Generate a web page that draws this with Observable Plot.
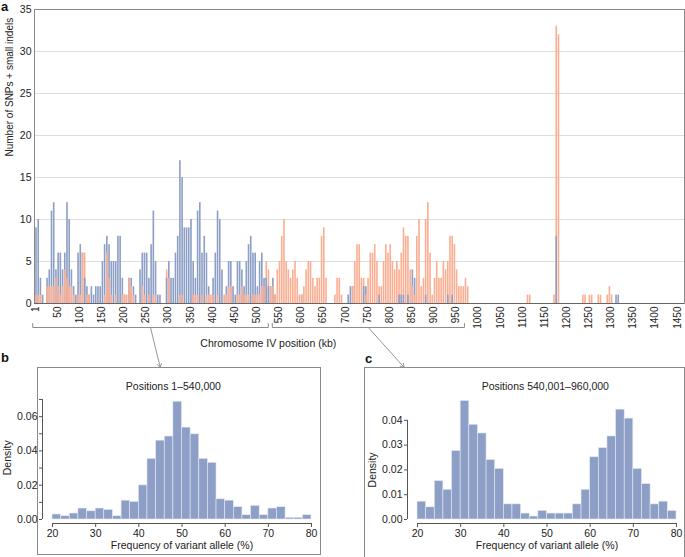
<!DOCTYPE html>
<html><head><meta charset="utf-8">
<script src="https://cdn.jsdelivr.net/npm/d3@7"></script>
<script src="https://cdn.jsdelivr.net/npm/@observablehq/plot@0.6"></script>
<style>
body{margin:0;background:#fff;font-family:"Liberation Sans",Arial,sans-serif;}
#wrap{position:relative;width:685px;height:557px;overflow:hidden;}
#wrap svg{position:absolute;}
.lbl{position:absolute;font-weight:bold;font-size:13px;line-height:13px;color:#111;}
.box{position:absolute;border:1px solid #8a8a8a;box-sizing:border-box;}
</style></head><body><div id="wrap"></div>
<script>
// ---------- Panel a data: counts per 5-kb bin (bin i starts at i*5 kb) ----------
const binWidthKb = 5;
const blueCounts = [
 9,10,3,1,0,3,4,11,12,4,
 6,6,4,6,12,10,4,2,1,6,
 7,6,3,2,1,2,1,2,2,2,
 5,7,8,7,5,5,5,8,8,3,
 1,0,3,3,2,1,0,4,6,6,
 6,3,7,11,5,1,1,0,0,3,
 5,3,3,6,8,17,15,9,9,9,
 10,5,3,11,12,6,8,6,2,0,
 3,6,11,10,4,0,2,5,5,2,
 1,5,5,4,2,5,7,8,6,6,
 2,5,6,3,3,2,2,3,1,0,
 0,0,0,0,0,0,0,0,0,0,
 1,0,0,0,0,0,0,0,0,0,
 0,0,0,0,0,0,0,0,0,0,
 0,1,2,2,0,0,0,0,2,2,
 0,0,0,0,0,1,0,0,0,0,
 0,0,0,0,1,1,1,0,1,0,
 4,3,0,0,0,0,1,0,0,0,
 0,0,0,0,0,0,1,0,1,0,
 0,0,0,0,0,0,0,0,0,0,
 0,0,0,0,0,0,0,0,0,0,
 0,0,0,0,0,0,0,0,0,0,
 0,0,0,0,0,0,0,0,0,0,
 0,0,0,0,0,8,0,0,0,0,
 0,0,0,0,0,0,0,0,0,0,
 0,0,0,0,0,0,0,0,0,0,
 0,0,1,1
];
const orangeCounts = [
 1,1,1,0,0,2,2,2,2,3,
 2,1,2,4,3,2,2,1,0,1,
 1,6,6,1,1,0,0,0,0,0,
 0,1,6,3,1,0,1,0,0,1,
 1,1,3,2,1,0,0,0,2,1,
 0,1,0,1,1,0,0,0,0,4,
 3,0,0,0,0,1,1,0,0,0,
 0,1,1,1,0,1,0,1,1,1,
 1,0,1,0,0,1,1,2,2,0,
 0,1,1,2,1,1,1,0,1,1,
 1,1,2,2,5,4,2,2,1,4,
 5,8,10,5,4,3,4,5,3,1,
 1,2,4,5,5,3,2,3,3,8,
 9,3,0,0,0,1,3,3,1,0,
 0,0,0,2,5,7,7,3,3,1,
 3,6,6,7,5,2,2,5,7,6,
 7,5,4,5,4,6,9,8,8,4,
 2,1,8,10,2,3,10,12,6,1,
 3,5,3,3,5,4,5,8,8,7,
 4,2,2,2,3,2,0,0,0,0,
 0,0,0,0,0,0,0,0,0,0,
 0,0,0,0,0,0,0,0,0,0,
 0,0,1,1,0,0,0,0,0,0,
 0,0,0,0,1,33,32,0,0,0,
 0,0,0,0,0,0,0,1,1,0,
 1,1,0,0,1,1,0,0,1,2,
 1,0,0,0
];
const xTickLabels = [1,50,100,150,200,250,300,350,400,450,500,550,600,650,700,750,800,850,900,950,1000,1050,1100,1150,1200,1250,1300,1350,1400,1450];
const yTicksA = [0,5,10,15,20,25,30,35];

// ---------- Panels b and c: histogram densities (2% bins) ----------
const histBinStarts = [20,22,24,26,28,30,32,34,36,38,40,42,44,46,48,50,52,54,56,58,60,62,64,66,68,70,72,74,76,78];
const histBinWidth = 2;
const densityB = [0.0029,0.0019,0.0035,0.0064,0.0048,0.0064,0.0056,0.0019,0.0110,0.0103,0.0199,0.0354,0.0460,0.0484,0.0687,0.0536,0.0497,0.0354,0.0331,0.0118,0.0110,0.0072,0.0025,0.0079,0.0025,0.0064,0.0072,0.0010,0.0010,0.0025];
const densityC = [0.0072,0.0049,0.0155,0.0120,0.0276,0.0478,0.0382,0.0347,0.0240,0.0204,0.0061,0.0061,0.0024,0.0012,0.0035,0.0024,0.0024,0.0024,0.0061,0.0120,0.0251,0.0288,0.0335,0.0443,0.0407,0.0204,0.0143,0.0061,0.0072,0.0035];
const histXTicks = [20,30,40,50,60,70,80];
const yTicksB = [0,0.01,0.02,0.03,0.04,0.05,0.06,0.07];
const yTicksC = [0,0.01,0.02,0.03,0.04];

const BLUE = "#8d9fc6";
const ORANGE = "#fcae92";
const FONT = '"Liberation Sans", Arial, sans-serif';

// rows for panel a: within each bin, taller bar first so the shorter one is drawn on top
const rows = [];
blueCounts.forEach((b, i) => {
  const o = orangeCounts[i] || 0;
  const pair = [{series: "Series A", value: b}, {series: "Series B", value: o}]
    .filter(d => d.value > 0)
    .sort((p, q) => q.value - p.value);
  pair.forEach(d => rows.push({x1: i * binWidthKb, x2: (i + 1) * binWidthKb, series: d.series, value: d.value}));
});

// annotation geometry for the brackets / arrows below panel a (data units)
const brackets = [
  {id: 1, from: -6, to: 526},
  {id: 2, from: 535, to: 969}
];
const bracketY = -2.86, bracketTipY = -2.38, arrowEndY = -7.62;
const bracketPts = brackets.flatMap(b => [
  {id: b.id, x: b.from, y: bracketTipY}, {id: b.id, x: b.from, y: bracketY},
  {id: b.id, x: b.to, y: bracketY}, {id: b.id, x: b.to, y: bracketTipY}
]);
const arrows = [
  {x1: (brackets[0].from + brackets[0].to) / 2, x2: 282, y1: bracketY, y2: arrowEndY},
  {x1: (brackets[1].from + brackets[1].to) / 2, x2: 833, y1: bracketY, y2: arrowEndY}
];

const wrap = document.getElementById("wrap");

const chartA = Plot.plot({
  width: 685, height: 370,
  marginLeft: 34, marginRight: 1, marginTop: 9, marginBottom: 67,
  x: {domain: [-2, 1466]},
  y: {domain: [0, 35]},
  color: {type: "ordinal", domain: ["Series A", "Series B"], range: [BLUE, ORANGE]},
  style: {fontFamily: FONT, fontSize: "10px", color: "#222", background: "transparent", overflow: "visible"},
  marks: [
    Plot.ruleY(yTicksA.filter(d => d > 0), {stroke: "#dedede", strokeWidth: 1}),
    Plot.rectY(rows, {x1: "x1", x2: "x2", y1: 0, y2: "value", fill: "series", insetLeft: 0.3, insetRight: 0.3}),
    Plot.frame({stroke: "#8a8a8a"}),
    Plot.ruleY([0], {stroke: "#666"}),
    Plot.axisY(yTicksA, {tickSize: 0, tickPadding: 3, fontSize: 10.5, label: null}),
    Plot.axisX(xTickLabels, {tickSize: 0, tickPadding: 3, tickRotate: -90, fontSize: 10, label: null, tickFormat: d => String(d)}),
    Plot.text(["Number of SNPs + small indels"], {frameAnchor: "left", dx: -25, rotate: -90, fontSize: 10}),
    Plot.line(bracketPts, {x: "x", y: "y", z: "id", stroke: "#8a8a8a", strokeWidth: 1}),
    Plot.arrow(arrows, {x1: "x1", y1: "y1", x2: "x2", y2: "y2", stroke: "#8a8a8a", strokeWidth: 0.9, headLength: 7}),
    Plot.text(["Chromosome IV position (kb)"], {x: 526, y: -4.76, fontSize: 10.5})
  ]
});

function histPanel({density, yMax, yTicks, axisTop, tickFormat, width, marginLeft, marginRight, marginTop, title, titleX, titleDy, densityY}) {
  const hist = histBinStarts.map((s, i) => ({x1: s, x2: s + histBinWidth, y: density[i]}));
  return Plot.plot({
    width, height: 190,
    marginLeft, marginRight, marginTop, marginBottom: 34,
    x: {domain: [20, 80], insetLeft: 10},
    y: {domain: [0, yMax], insetBottom: 4},
    style: {fontFamily: FONT, fontSize: "10px", color: "#222", background: "transparent", overflow: "visible"},
    marks: [
      Plot.rectY(hist, {x1: "x1", x2: "x2", y1: 0, y2: "y", fill: BLUE, stroke: "#e6eaf3", strokeWidth: 0.6}),
      Plot.ruleY([0], {x1: 20, x2: 80, dy: 4, stroke: "#555"}),
      Plot.ruleX([20], {y1: 0, y2: axisTop, dx: -10, stroke: "#555"}),
      Plot.axisX(histXTicks, {tickSize: 4, tickPadding: 2, fontSize: 10.5, label: null, stroke: "#555"}),
      Plot.axisY(yTicks, {tickSize: 3, tickPadding: 2, fontSize: 10.5, label: null, tickFormat, stroke: "#555"}),
      Plot.text([title], {x: titleX, frameAnchor: "top", dy: titleDy, fontSize: 10.5}),
      Plot.text(["Frequency of variant allele (%)"], {x: 50, frameAnchor: "bottom", dy: 25, fontSize: 10.5}),
      Plot.text(["Density"], {x: 20, y: densityY, dx: -45, rotate: -90, fontSize: 10.5})
    ]
  });
}

const chartB = histPanel({
  density: densityB, yMax: 0.07, yTicks: yTicksB, axisTop: 0.07,
  tickFormat: d => (Math.round(d * 100) % 2 === 0 ? d.toFixed(2) : ""),
  width: 322, marginLeft: 42, marginRight: 11, marginTop: 32,
  title: "Positions 1\u2013540,000", titleX: 48, titleDy: -17, densityY: 0.036
});
const chartC = histPanel({
  density: densityC, yMax: 0.05, yTicks: yTicksC, axisTop: 0.04,
  tickFormat: d => d.toFixed(2),
  width: 345, marginLeft: 67, marginRight: 9, marginTop: 28,
  title: "Positions 540,001\u2013960,000", titleX: 49.6, titleDy: -13, densityY: 0.02
});

function addBox(l, t, w, h) {
  const d = document.createElement("div");
  d.className = "box";
  Object.assign(d.style, {left: l + "px", top: t + "px", width: w + "px", height: h + "px"});
  wrap.appendChild(d);
}
function addLabel(txt, l, t) {
  const d = document.createElement("div");
  d.className = "lbl";
  d.textContent = txt;
  Object.assign(d.style, {left: l + "px", top: t + "px"});
  wrap.appendChild(d);
}

addBox(37, 367, 284, 188);
addBox(364, 367, 321, 191);
chartB.style.left = "0px"; chartB.style.top = "367px";
chartC.style.left = "340px"; chartC.style.top = "367px";
chartA.style.left = "0px"; chartA.style.top = "0px";
wrap.appendChild(chartB);
wrap.appendChild(chartC);
wrap.appendChild(chartA);
addLabel("a", 1, 0);
addLabel("b", 1, 351);
addLabel("c", 365, 352);
</script></body></html>
